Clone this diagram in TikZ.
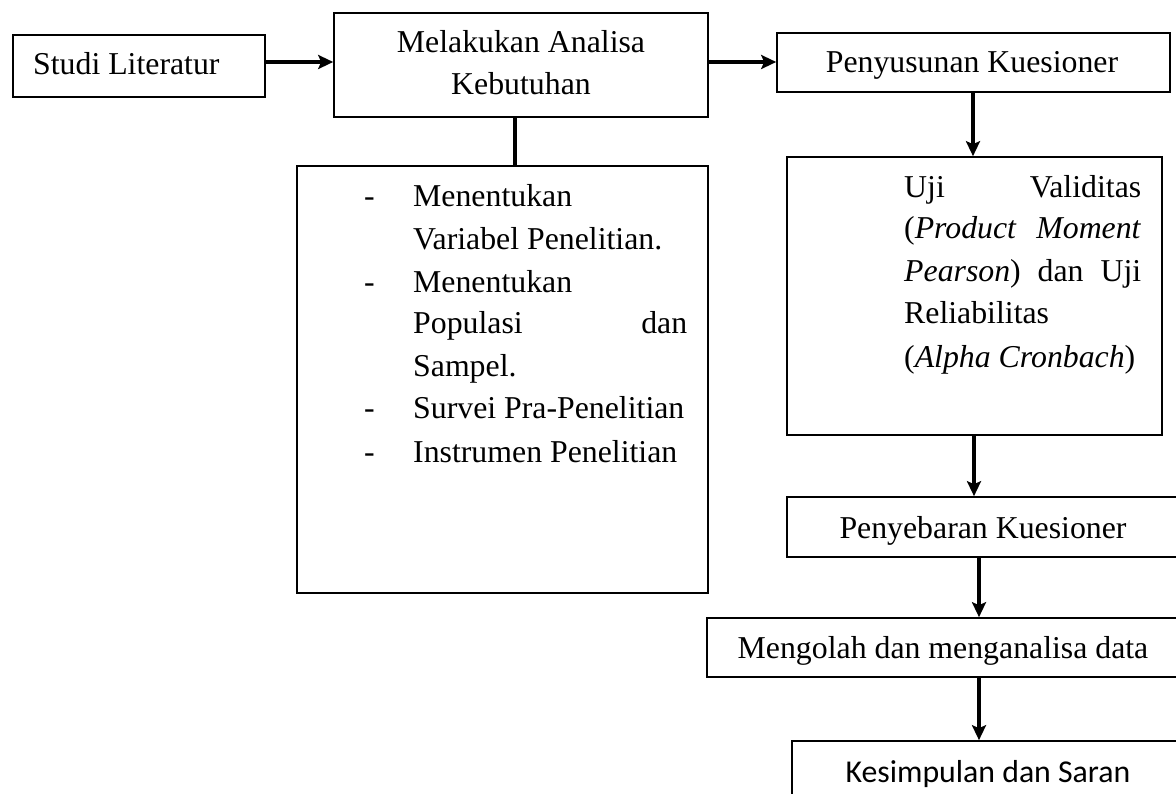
\documentclass[tikz,border=0pt]{standalone}
\usepackage{fontspec}
\setmainfont{Liberation Serif}
\newfontfamily\calibrifont{Carlito}
\usetikzlibrary{arrows.meta,calc}
\begin{document}
\begin{tikzpicture}[x=1pt,y=-1pt,
  box/.style={draw, line width=1.6pt, inner sep=0pt},
  txt/.style={inner sep=0pt, anchor=base, font=\fontsize{31.8}{42.5}\selectfont},
  conn/.style={line width=4.5pt},
  arr/.style={conn, -{Stealth[length=15pt,width=14pt,inset=3pt]}}]
\useasboundingbox (0,0) rectangle (1176,794);
\fill[white] (0,0) rectangle (1176,794);

% boxes
\node[box, minimum width=252pt, minimum height=62pt] (studi) at (139,66) {};
\node[box, minimum width=374pt, minimum height=104pt] (melak) at (521,65) {};
\node[box, minimum width=411pt, minimum height=427pt] (list) at (502.5,379.5) {};
\node[box, minimum width=393pt, minimum height=59pt] (penyu) at (973.5,62.5) {};
\node[box, minimum width=375pt, minimum height=278pt] (uji) at (974.5,296) {};
\node[box, minimum width=393pt, minimum height=60pt] (sebar) at (983.5,527) {};
\node[box, minimum width=473pt, minimum height=59pt] (olah) at (943.5,647.5) {};
\node[box, minimum width=392pt, minimum height=59pt] (simpul) at (988,770.5) {};

% texts
\node[txt, anchor=base west] (tstudi) at (33,75) {Studi Literatur};
\node[txt] (tmelak1) at (521,53) {Melakukan Analisa};
\node[txt] (tmelak2) at (521,95) {Kebutuhan};
\node[txt] (tpenyu) at (972,73) {Penyusunan Kuesioner};
\node[txt] (tsebar) at (983,538) {Penyebaran Kuesioner};
\node[txt] (tolah) at (943,658) {Mengolah dan menganalisa data};
\node[txt, font=\fontsize{31.8}{42.5}\selectfont\calibrifont] (tsimpul) at (988,782) {Kesimpulan dan Saran};

% list items
\node[txt, anchor=base west] (d1) at (364,207) {-};
\node[txt, anchor=base west] (d2) at (364,293) {-};
\node[txt, anchor=base west] (d3) at (364,418) {-};
\node[txt, anchor=base west] (d4) at (364,462) {-};
\node[txt, anchor=base west] (l1) at (413,207) {Menentukan};
\node[txt, anchor=base west] (l2) at (413,250) {Variabel Penelitian.};
\node[txt, anchor=base west] (l3) at (413,293) {Menentukan};
\node[txt, anchor=base west] (l4) at (413,334) {\hbox to 274pt{Populasi\hfill dan}};
\node[txt, anchor=base west] (l5) at (413,377) {Sampel.};
\node[txt, anchor=base west] (l6) at (413,418) {Survei Pra-Penelitian};
\node[txt, anchor=base west] (l7) at (413,462) {Instrumen Penelitian};

% uji text
\node[txt, anchor=base west] (u1) at (904,198) {\hbox to 237pt{Uji\hfill Validitas}};
\node[txt, anchor=base west] (u2) at (904,239) {\hbox to 237pt{(\textit{Product}\hfill\textit{Moment}}};
\node[txt, anchor=base west] (u3) at (904,282) {\hbox to 237pt{\textit{Pearson})\hfill dan\hfill Uji}};
\node[txt, anchor=base west] (u4) at (904,324) {Reliabilitas};
\node[txt, anchor=base west] (u5) at (904,367) {(\textit{Alpha Cronbach})};

% connectors
\coordinate (yA) at (0,62);
\coordinate (xL) at (515,0);
\coordinate (xP) at (973,0);
\coordinate (xU) at (974,0);
\coordinate (xS) at (979,0);
\draw[arr] (studi.east |- yA) -- (melak.west |- yA);
\draw[arr] (melak.east |- yA) -- (penyu.west |- yA);
\draw[conn] (xL |- melak.south) -- (xL |- list.north);
\draw[arr] (xP |- penyu.south) -- (xP |- uji.north);
\draw[arr] (xU |- uji.south) -- (xU |- sebar.north);
\draw[arr] (xS |- sebar.south) -- (xS |- olah.north);
\draw[arr] (xS |- olah.south) -- (xS |- simpul.north);
\end{tikzpicture}
\end{document}
